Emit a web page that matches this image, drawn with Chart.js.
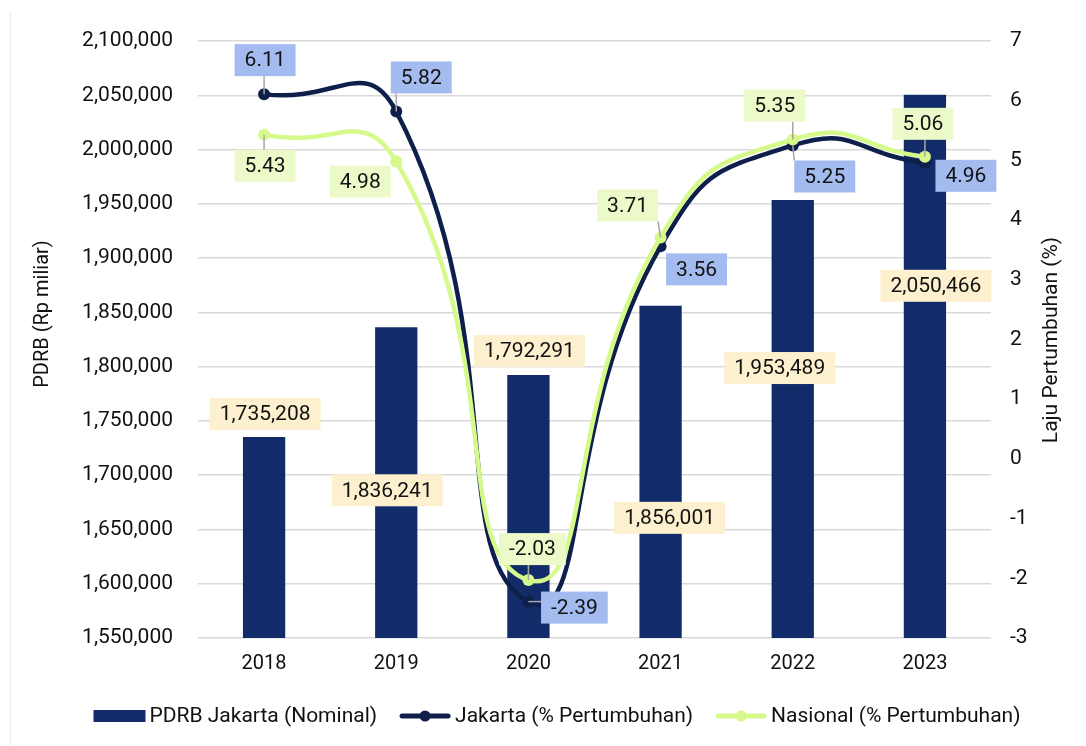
<!DOCTYPE html>
<html>
<head>
<meta charset="utf-8">
<script src="https://cdn.jsdelivr.net/npm/chart.js@4/dist/chart.umd.min.js"></script>
<style>
  html, body { margin: 0; padding: 0; background: #ffffff; }
  #wrap { width: 1086px; height: 746px; }
</style>
</head>
<body>
<div id="wrap"><canvas id="c" width="1086" height="746"></canvas></div>
<script>
// ---- data ----
const years = ['2018', '2019', '2020', '2021', '2022', '2023'];
const pdrbJakarta = [1735208, 1836241, 1792291, 1856001, 1953489, 2050466];
const growthJakarta = [6.11, 5.82, -2.39, 3.56, 5.25, 4.96];
const growthNasional = [5.43, 4.98, -2.03, 3.71, 5.35, 5.06];
const seriesNames = ['PDRB Jakarta (Nominal)', 'Jakarta (% Pertumbuhan)', 'Nasional (% Pertumbuhan)'];
const leftTitle = 'PDRB (Rp miliar)';
const rightTitle = 'Laju Pertumbuhan (%)';

// ---- label placement (offsets in px from mark) ----
const barLabelOffsets = [[1, -23], [-9, 163], [1, -24], [9, 212], [-13, 168], [11, 191]];
const jakLabelOffsets = [[1, -34], [25, -34], [46, 6], [36, 23], [32, 31], [41, 13]];
const nasLabelOffsets = [[1, 31], [-36, 20], [4, -31], [-33, -32], [-18, -34], [-2, -33]];

const NAVY_BAR = '#122c69';
const NAVY_LINE = '#0f1f4b';
const GREEN = '#d5f98a';
const FONT = 'Roboto, "Noto Sans", sans-serif';

function fmt(v) { return Number(v).toLocaleString('en-US'); }

const labelPlugin = {
  id: 'boxLabels',
  afterDatasetsDraw(chart) {
    const ctx = chart.ctx;
    const specs = [
      { ds: 0, offs: barLabelOffsets, bg: '#fdf0cf', f: fmt },
      { ds: 1, offs: jakLabelOffsets, bg: '#a3bbef', f: v => v.toFixed(2) },
      { ds: 2, offs: nasLabelOffsets, bg: '#ebfac8', f: v => v.toFixed(2) }
    ];
    ctx.save();
    ctx.font = '21px ' + FONT;
    ctx.textAlign = 'center';
    ctx.textBaseline = 'middle';
    specs.forEach(s => {
      const meta = chart.getDatasetMeta(s.ds);
      const data = chart.data.datasets[s.ds].data;
      meta.data.forEach((el, j) => {
        const px = el.x, py = el.y;
        const cx = px + s.offs[j][0], cy = py + s.offs[j][1];
        const txt = s.f(data[j]);
        const w = ctx.measureText(txt).width + 20, h = 32;
        const x0 = cx - w / 2, y0 = cy - h / 2;
        const nx = Math.max(x0, Math.min(px, x0 + w));
        const ny = Math.max(y0, Math.min(py, y0 + h));
        const d = Math.hypot(nx - px, ny - py);
        if (s.ds > 0 && d > 11) {
          ctx.strokeStyle = '#a6a6a6';
          ctx.lineWidth = 1.5;
          ctx.beginPath();
          ctx.moveTo(px, py);
          ctx.lineTo(nx, ny);
          ctx.stroke();
        }
        ctx.fillStyle = s.bg;
        ctx.fillRect(x0, y0, w, h);
        ctx.fillStyle = '#111111';
        ctx.fillText(txt, cx, cy + 1);
      });
    });
    ctx.restore();
  }
};

const decorPlugin = {
  id: 'decor',
  beforeDraw(chart) {
    const ctx = chart.ctx;
    ctx.save();
    ctx.strokeStyle = '#ececec';
    ctx.lineWidth = 1;
    ctx.beginPath();
    ctx.moveTo(10.5, 12);
    ctx.lineTo(10.5, 746);
    ctx.stroke();
    ctx.restore();
  },
  afterDraw(chart) {
    const ctx = chart.ctx;
    ctx.save();
    ctx.fillStyle = '#111111';
    ctx.textAlign = 'center';
    ctx.textBaseline = 'middle';
    ctx.font = '20px ' + FONT;
    ctx.save();
    ctx.translate(43, 314);
    ctx.rotate(-Math.PI / 2);
    ctx.fillText(leftTitle, 0, 0);
    ctx.restore();
    ctx.font = '21px ' + FONT;
    ctx.save();
    ctx.translate(1052, 340);
    ctx.rotate(-Math.PI / 2);
    ctx.fillText(rightTitle, 0, 0);
    ctx.restore();

    // legend
    ctx.font = '21px ' + FONT;
    ctx.textAlign = 'left';
    const sw = 52, gapT = 4, gapI = 22;
    const widths = seriesNames.map(n => ctx.measureText(n).width);
    const total = widths.reduce((a, b) => a + b, 0) + 3 * (sw + gapT) + 2 * gapI;
    let x = 557 - total / 2;
    const ly = 716;
    seriesNames.forEach((n, i) => {
      if (i === 0) {
        ctx.fillStyle = NAVY_BAR;
        ctx.fillRect(x, ly - 6, sw, 12);
      } else {
        const col = i === 1 ? NAVY_LINE : GREEN;
        ctx.strokeStyle = col;
        ctx.lineWidth = 5;
        ctx.lineCap = 'round';
        ctx.beginPath();
        ctx.moveTo(x + 3, ly);
        ctx.lineTo(x + sw - 3, ly);
        ctx.stroke();
        ctx.fillStyle = col;
        ctx.beginPath();
        ctx.arc(x + sw / 2, ly, 5.5, 0, Math.PI * 2);
        ctx.fill();
      }
      ctx.fillStyle = '#111111';
      ctx.fillText(n, x + sw + gapT, ly + 1);
      x += sw + gapT + widths[i] + gapI;
    });
    ctx.restore();
  }
};

new Chart(document.getElementById('c'), {
  data: {
    labels: years,
    datasets: [
      {
        type: 'bar',
        label: seriesNames[0],
        data: pdrbJakarta,
        backgroundColor: NAVY_BAR,
        yAxisID: 'y',
        barPercentage: 0.64,
        categoryPercentage: 0.5,
        order: 3
      },
      {
        type: 'line',
        label: seriesNames[1],
        data: growthJakarta,
        borderColor: NAVY_LINE,
        backgroundColor: NAVY_LINE,
        borderWidth: 4.5,
        pointRadius: 6,
        pointBorderWidth: 0,
        tension: 0.55,
        yAxisID: 'y1',
        order: 2
      },
      {
        type: 'line',
        label: seriesNames[2],
        data: growthNasional,
        borderColor: GREEN,
        backgroundColor: GREEN,
        borderWidth: 4.5,
        pointRadius: 6,
        pointBorderWidth: 0,
        tension: 0.55,
        yAxisID: 'y1',
        order: 1
      }
    ]
  },
  options: {
    responsive: false,
    animation: false,
    layout: { padding: { left: 0, right: 0, top: 41, bottom: 68 } },
    plugins: {
      legend: { display: false },
      tooltip: { enabled: false }
    },
    scales: {
      x: {
        grid: { display: false, drawTicks: false },
        border: { display: false },
        ticks: { font: { size: 20, family: FONT }, color: '#111111', padding: 14 },
        afterFit(s) { s.height = 40; }
      },
      y: {
        position: 'left',
        min: 1550000,
        max: 2100000,
        ticks: {
          stepSize: 50000,
          font: { size: 21, family: FONT },
          color: '#111111',
          padding: 25,
          callback: v => fmt(v)
        },
        grid: { color: '#d9d9d9', lineWidth: 1.5, drawTicks: false },
        border: { display: false },
        afterFit(s) { s.width = 198; }
      },
      y1: {
        position: 'right',
        min: -3,
        max: 7,
        ticks: {
          stepSize: 1,
          font: { size: 21, family: FONT },
          color: '#111111',
          padding: 19
        },
        grid: { display: false, drawTicks: false },
        border: { display: false },
        afterFit(s) { s.width = 95; }
      }
    }
  },
  plugins: [labelPlugin, decorPlugin]
});
</script>
</body>
</html>
